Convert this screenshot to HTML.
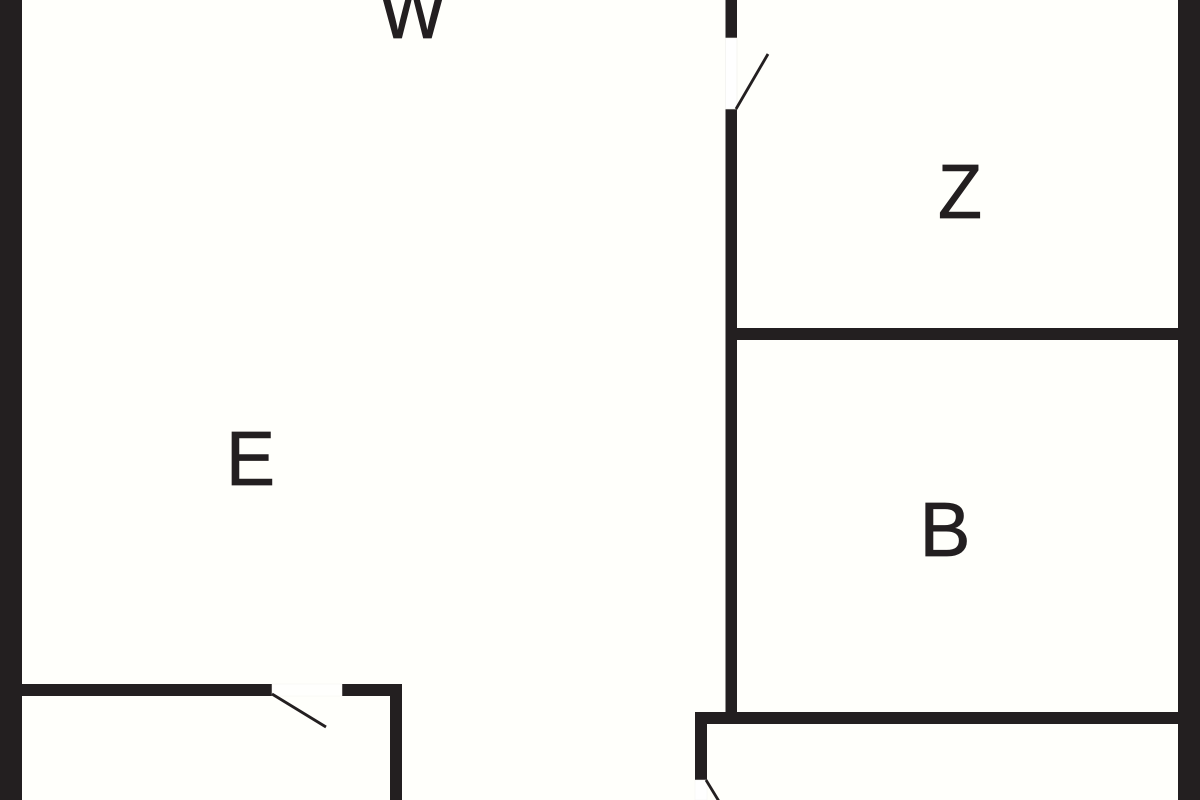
<!DOCTYPE html>
<html>
<head>
<meta charset="utf-8">
<style>
html,body{margin:0;padding:0;background:#fffffb;}
svg{display:block;}
text{font-family:"Liberation Sans",sans-serif;fill:#231f20;stroke:#231f20;stroke-width:0.8px;font-size:77px;}
</style>
</head>
<body>
<svg width="1200" height="800" viewBox="0 0 1200 800" xmlns="http://www.w3.org/2000/svg">
<rect width="1200" height="800" fill="#fffffb"/>
<g fill="#231f20">
<rect x="0" y="0" width="22" height="800"/>
<rect x="1178" y="0" width="22" height="800"/>
<rect x="725.5" y="0" width="11.5" height="38"/>
<rect x="725.5" y="109" width="11.5" height="603"/>
<rect x="737" y="328" width="441" height="12"/>
<rect x="695" y="712" width="483" height="12"/>
<rect x="695" y="712" width="12" height="68"/>
<rect x="22" y="684" width="250" height="12"/>
<rect x="342" y="684" width="60" height="12"/>
<rect x="390" y="684" width="12" height="116"/>
</g>
<rect x="725.5" y="38" width="11.5" height="71" fill="#fff" stroke="#eeeeea" stroke-width="0.6"/>
<rect x="695" y="780" width="12" height="20" fill="#fff" stroke="#f4f4f0" stroke-width="0.5"/>
<rect x="272" y="684" width="70" height="12" fill="#fffffd" stroke="#f6f6f2" stroke-width="0.5"/>
<g stroke="#231f20" stroke-width="2.8" fill="none">
<line x1="736" y1="109" x2="768" y2="54"/>
<line x1="706" y1="780" x2="720" y2="803"/>
<line x1="272" y1="694" x2="326" y2="727"/>
</g>
<text x="379" y="38" textLength="67" lengthAdjust="spacingAndGlyphs">W</text>
<text x="938" y="218" textLength="44" lengthAdjust="spacingAndGlyphs">Z</text>
<text x="226" y="485" textLength="49" lengthAdjust="spacingAndGlyphs">E</text>
<text x="919.5" y="556" textLength="51" lengthAdjust="spacingAndGlyphs">B</text>
</svg>
</body>
</html>
